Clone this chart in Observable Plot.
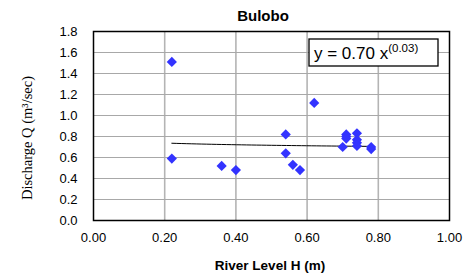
<!DOCTYPE html>
<html><head><meta charset="utf-8">
<script src="https://cdn.jsdelivr.net/npm/d3@7"></script>
<script src="https://cdn.jsdelivr.net/npm/@observablehq/plot@0.6"></script>
<style>
html,body{margin:0;padding:0;background:#fff;}
svg{font-family:Arial,"Liberation Sans",sans-serif;}
</style>
</head><body>
<div id="chart"></div>
<script>
const riverLevel = [0.22, 0.22, 0.36, 0.40, 0.54, 0.54, 0.56, 0.58, 0.62, 0.70, 0.71, 0.71, 0.71, 0.74, 0.74, 0.74, 0.74, 0.78, 0.78];
const discharge  = [1.51, 0.59, 0.52, 0.48, 0.82, 0.64, 0.53, 0.48, 1.12, 0.70, 0.82, 0.80, 0.78, 0.83, 0.77, 0.74, 0.71, 0.70, 0.68];
const xTicks = [0, 0.2, 0.4, 0.6, 0.8, 1.0];
const yTicks = [0, 0.2, 0.4, 0.6, 0.8, 1.0, 1.2, 1.4, 1.6, 1.8];
const trendCoef = 0.70;
const trendExp = -0.033;
const titleText = "Bulobo";
const xLabel = "River Level H (m)";
const yLabel = "Discharge Q (m³/sec)";

const points = riverLevel.map((h, i) => ({h, q: discharge[i]}));
const hMin = d3.min(riverLevel), hMax = d3.max(riverLevel);
const trend = d3.range(0, 41).map(i => {
  const h = hMin + (hMax - hMin) * i / 40;
  return {h, q: trendCoef * Math.pow(h, trendExp)};
});

const plot = Plot.plot({
  width: 473,
  height: 277,
  marginLeft: 93,
  marginRight: 24,
  marginTop: 31,
  marginBottom: 57,
  style: {fontFamily: "Arial, 'Liberation Sans', sans-serif", fontSize: "13px", background: "#fff"},
  x: {domain: [0, 1], ticks: xTicks},
  y: {domain: [0, 1.8], ticks: yTicks},
  marks: [
    Plot.gridX(xTicks.slice(1, -1), {stroke: "#b4b4b4", strokeOpacity: 1, strokeWidth: 1.6}),
    Plot.gridY(yTicks.slice(1, -1), {stroke: "#a8a8a8", strokeOpacity: 1, strokeWidth: 1}),
    Plot.frame({stroke: "#000", strokeWidth: 1.5}),
    Plot.axisX(xTicks, {tickSize: 0, tickPadding: 12, tickFormat: d3.format(".2f"), fontSize: 13, fill: "#000", label: null}),
    Plot.axisY(yTicks, {tickSize: 0, tickPadding: 16, tickFormat: d3.format(".1f"), fontSize: 13, fill: "#000", label: null}),
    Plot.line(trend, {x: "h", y: "q", stroke: "#000", strokeWidth: 1}),
    Plot.dot(points, {x: "h", y: "q", symbol: "diamond2", r: 4.6, fill: "#3333ff", stroke: "none"})
  ]
});
document.getElementById("chart").appendChild(plot);

const svg = d3.select(plot);

svg.append("text").attr("x", 263).attr("y", 21).attr("text-anchor", "middle")
  .attr("font-size", 15).attr("font-weight", "bold").attr("fill", "#000").text(titleText);
svg.append("text").attr("x", 270).attr("y", 270).attr("text-anchor", "middle")
  .attr("font-size", 13.5).attr("font-weight", "bold").attr("fill", "#000").text(xLabel);
svg.append("text").attr("transform", "translate(32,138) rotate(-90)").attr("text-anchor", "middle")
  .attr("font-family", "'Liberation Serif','DejaVu Serif',serif").attr("font-size", 14.5).attr("fill", "#000").text(yLabel);

// equation box
const bx = 309, by = 39, bw = 129, bh = 27;
svg.append("rect").attr("x", bx).attr("y", by).attr("width", bw).attr("height", bh)
  .attr("fill", "#fff").attr("stroke", "#000").attr("stroke-width", 1.3);
const eq = svg.append("text").attr("x", bx + 5).attr("y", by + 20).attr("text-anchor", "start")
  .attr("font-size", 17).attr("fill", "#000");
eq.append("tspan").text("y = 0.70 x");
eq.append("tspan").attr("dy", -7).attr("font-size", 11.5).text("(0.03)");
</script>
</body></html>
